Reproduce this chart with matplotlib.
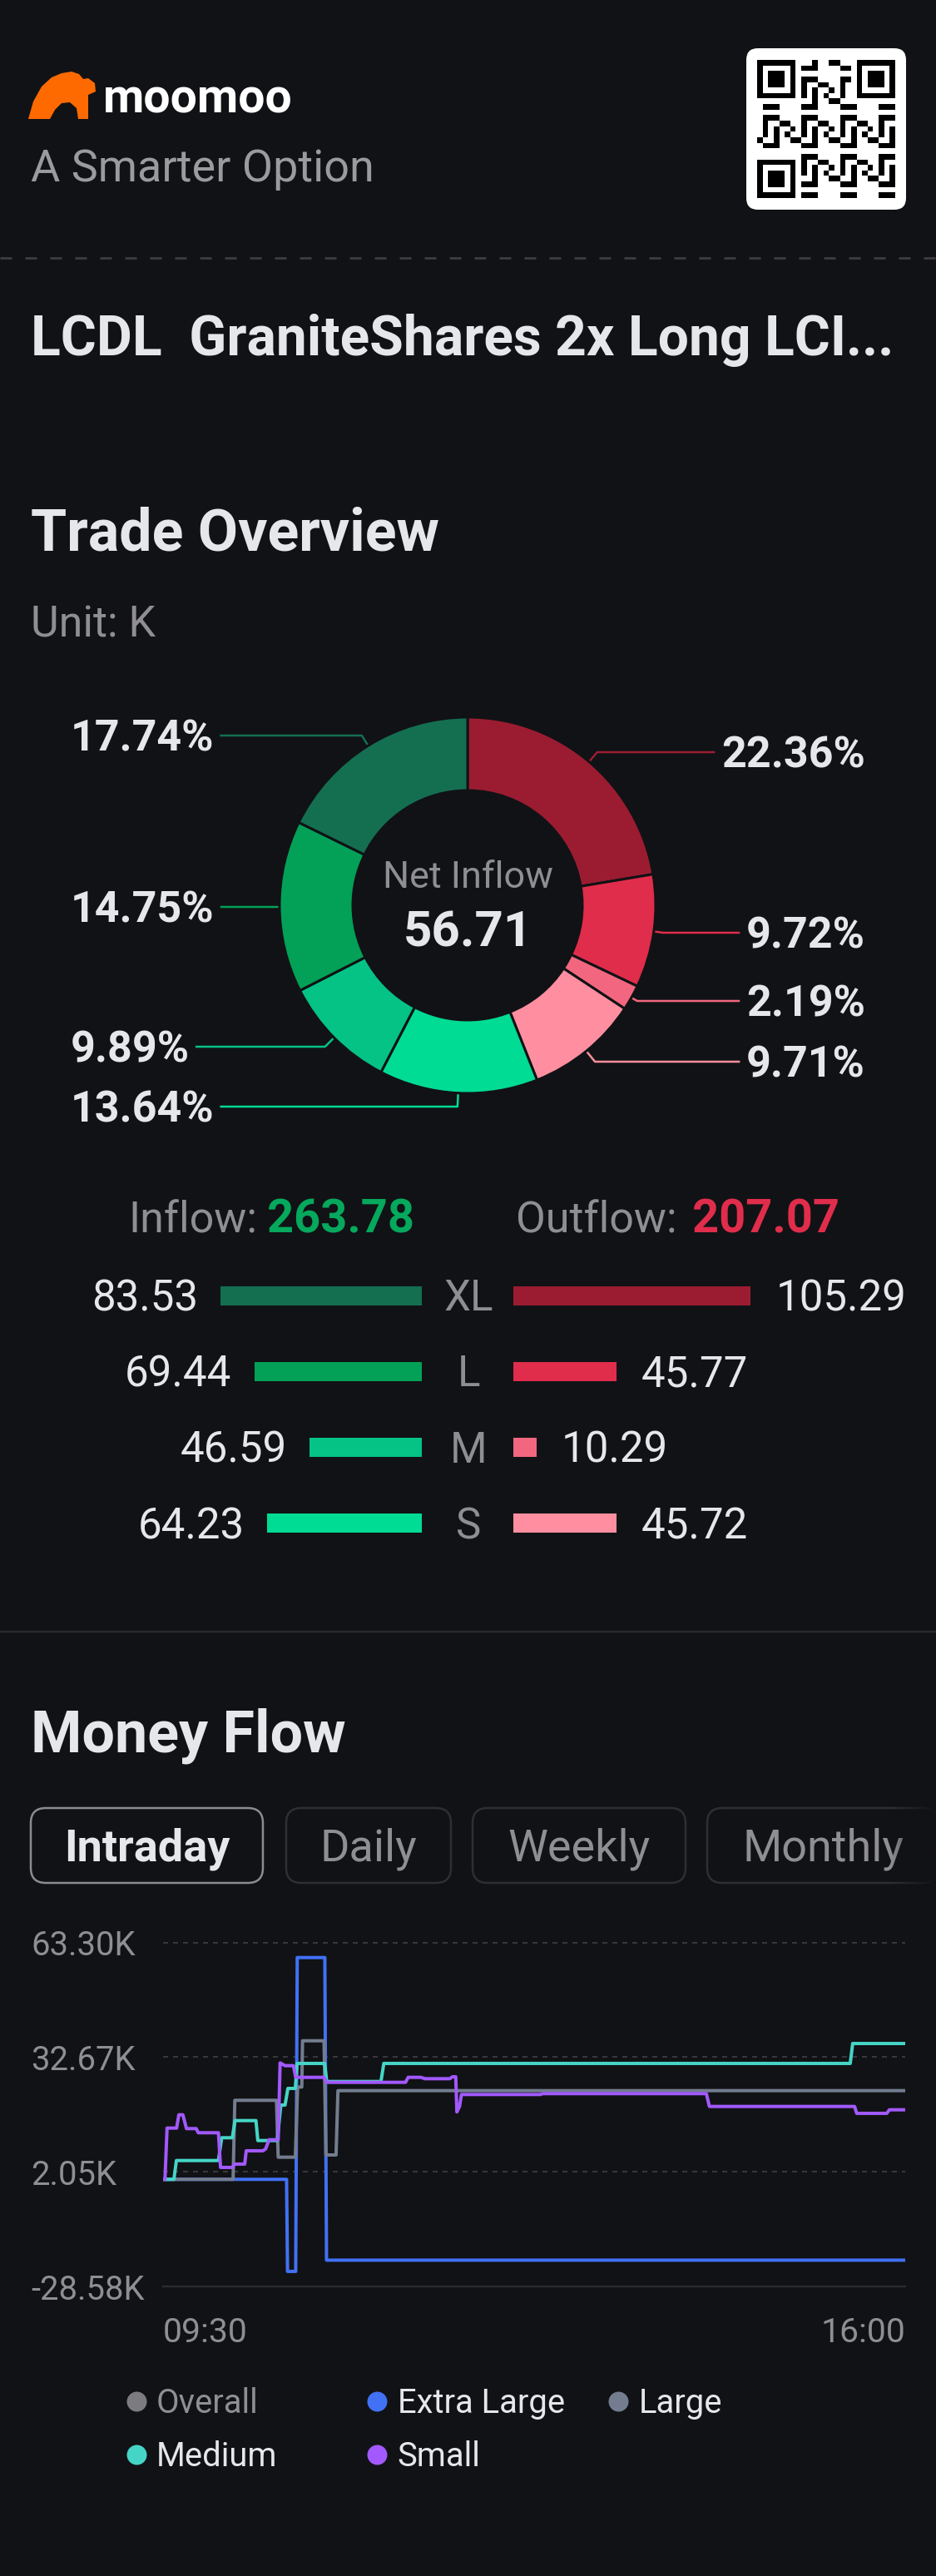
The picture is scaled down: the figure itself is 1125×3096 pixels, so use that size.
import matplotlib
matplotlib.use("Agg")
import matplotlib.pyplot as plt
from matplotlib.patches import FancyBboxPatch, Polygon
import numpy as np

plt.rcParams['font.family'] = ['Roboto', 'DejaVu Sans']
plt.rcParams['lines.scale_dashes'] = False

# ---------------- data ----------------
ticker = "LCDL"
stock_name = "GraniteShares 2x Long LCI..."
size_names = ["XL", "L", "M", "S"]
inflow = [83.53, 69.44, 46.59, 64.23]
outflow = [105.29, 45.77, 10.29, 45.72]
inflow_total = 263.78
outflow_total = 207.07
net_inflow = 56.71

tabs = ["Intraday", "Daily", "Weekly", "Monthly"]
y_ticks = [-28.58, 2.05, 32.67, 63.30]
x_tick_labels = ["09:30", "16:00"]
session_minutes = 390

series_names = ["Overall", "Extra Large", "Large", "Medium", "Small"]

# minutes after 09:30 / value in K
xl_t = [0, 64.9, 65.4, 69.7, 70.5, 85.0, 85.9, 390]
xl_v = [0.07, 0.07, -24.5, -24.5, 59.25, 59.25, -21.5, -21.5]

large_t = [0, 36.8, 37.7, 59.6, 60.5, 69.5, 70.7, 72.9, 73.3, 84.6, 85.6, 90.9, 91.9, 390]
large_v = [0.07, 0.07, 21.16, 21.16, 5.98, 5.98, 24.71, 24.71, 37.05, 37.05, 6.58, 6.58, 23.74, 23.74]

medium_t = [0, 5.7, 7.0, 29.1, 30.8, 36.4, 37.8, 48.8, 49.8, 60.0, 61.9, 64.1, 65.6, 69.5,
            70.4, 84.9, 86.0, 114.5, 116.0, 361.1, 362.4, 390]
medium_v = [0.07, 0.07, 5.09, 5.09, 11.17, 11.17, 15.75, 15.75, 10.42, 10.42, 19.9, 19.9, 24.33, 24.33,
            31.0, 31.0, 26.18, 26.18, 31.0, 31.0, 36.32, 36.32]

small_t = [0, 1.0, 2.1, 7.1, 8.3, 10.4, 12.3, 17.4, 18.5, 29.1, 30.2, 36.4, 37.6, 42.9, 43.7,
           52.5, 53.9, 55.7, 60.5, 61.5, 64.1, 68.5, 69.7, 84.6, 86.0, 127.4, 128.8, 135.5,
           137.6, 150.7, 152.1, 153.8, 154.4, 155.8, 156.8, 198.4, 199.4, 285.5, 287.1,
           363.4, 364.5, 380.3, 381.7, 390]
small_v = [0.07, 0.07, 13.75, 13.75, 17.3, 17.3, 13.61, 13.61, 12.5, 12.5, 3.25, 3.25, 4.14, 4.14, 7.69,
           7.69, 8.2, 10.64, 10.64, 31.15, 30.4, 30.4, 27.29, 27.29, 25.96, 25.96, 27.29, 27.29,
           26.93, 26.93, 27.44, 27.44, 18.05, 19.52, 22.71, 22.71, 22.94, 22.94, 19.52,
           19.52, 17.68, 17.68, 18.63, 18.63]

# ---------------- style ----------------
W, H = 1125, 3096
BG = "#111215"
TXT = "#e6e7ea"
SUB = "#8e8e93"
in_colors = ["#146f51", "#02a157", "#05c285", "#00dc93"]
out_colors = ["#9b1c31", "#e02d4b", "#f2677f", "#ff8fa0"]
series_colors = ["#7c7c80", "#4171f5", "#737d8f", "#45d5c6", "#a259ff"]


def fs(p):
    # pixels -> points at dpi 100
    return p * 0.72


fig = plt.figure(figsize=(W / 100, H / 100), dpi=100, facecolor=BG)
bg = fig.add_axes([0, 0, 1, 1])
bg.set_xlim(0, W)
bg.set_ylim(H, 0)
bg.axis('off')


def axes_px(x0, y0, x1, y1):
    return fig.add_axes([x0 / W, 1 - y1 / H, (x1 - x0) / W, (y1 - y0) / H])


def text(x, y, s, size, color=TXT, weight='normal', ha='left'):
    return bg.text(x, y, s, fontsize=fs(size), color=color, fontweight=weight,
                   ha=ha, va='baseline')


# ---------------- header ----------------
logo = [(34, 143), (40, 122), (50, 104), (62, 93), (74, 88), (86, 86), (95, 89), (100, 95),
        (106, 94), (114, 100), (115, 110), (106, 114), (106, 143), (94, 143), (92, 130),
        (84, 123), (74, 124), (66, 132), (60, 143)]
bg.add_patch(Polygon(logo, closed=True, fc="#ff6a00", ec='none'))
text(124, 135, "moomoo", 57, color="#ffffff", weight='bold')
text(37, 218, "A Smarter Option", 54, color="#9b9b9f")

bg.add_patch(FancyBboxPatch((897, 58), 192, 194, boxstyle="round,pad=0,rounding_size=14",
                            fc="white", ec='none', zorder=1))
n = 25
ii, jj = np.meshgrid(np.arange(n), np.arange(n), indexing='ij')
qr = (((ii * ii * 3 + jj * 5 + ii * jj) % 7) < 3).astype(float)
for r0, c0 in [(0, 0), (0, n - 7), (n - 7, 0)]:
    qr[max(r0 - 1, 0):r0 + 8, max(c0 - 1, 0):c0 + 8] = 0
    qr[r0:r0 + 7, c0:c0 + 7] = 1
    qr[r0 + 1:r0 + 6, c0 + 1:c0 + 6] = 0
    qr[r0 + 2:r0 + 5, c0 + 2:c0 + 5] = 1
bg.imshow(qr, cmap='gray_r', vmin=0, vmax=1, extent=(910, 1076, 238, 72),
          aspect='auto', interpolation='nearest', zorder=2)

bg.plot([0, W], [310, 310], color="#3a3a3e", lw=fs(3), dashes=(fs(14), fs(16)))

text(37, 427, f"{ticker}  {stock_name}", 66, weight='bold')

# ---------------- trade overview ----------------
text(37, 662, "Trade Overview", 70, weight='bold')
text(37, 766, "Unit: K", 52, color=SUB)

cx, cy, R = 562, 1088, 226
apie = axes_px(cx - 250, cy - 250, cx + 250, cy + 250)
pie_vals = outflow + inflow[::-1]
pie_cols = out_colors + in_colors[::-1]
wedges, _ = apie.pie(pie_vals, colors=pie_cols, startangle=90, counterclock=False, radius=1,
                     wedgeprops=dict(width=88 / R, edgecolor=BG, linewidth=fs(3)))
apie.set_xlim(-250 / R, 250 / R)
apie.set_ylim(-250 / R, 250 / R)
apie.set_aspect('equal')
apie.axis('off')

text(cx, 1067, "Net Inflow", 45, color=SUB, ha='center')
text(cx, 1137, f"{net_inflow:.2f}", 60, weight='bold', ha='center')

pct_size = 52
label_y = [904, 1121, 1203, 1276, 1330, 1258, 1090, 884]
pcts = [v / sum(pie_vals) * 100 for v in pie_vals]
pct_texts = []
for k, p in enumerate(pcts):
    right = k < 4
    t = text(1040 if right else 85, label_y[k] + 0.711 * pct_size / 2, f"{p:.2f}%", pct_size,
             weight='bold', ha='right' if right else 'left')
    pct_texts.append(t)

# inflow / outflow totals
text(154, 1481, "Inflow:", 52, color=SUB)
text(321, 1481, f"{inflow_total:.2f}", 56, color="#05a85c", weight='bold')
text(620, 1481, "Outflow:", 52, color=SUB)
text(832, 1481, f"{outflow_total:.2f}", 56, color="#e02d4b", weight='bold')

# bars: each side has its own px/K scale, as in the app
row0, pitch = 1557, 91.3
top, bot = row0 - pitch / 2, row0 + 3.5 * pitch
left_scale, right_scale = 2.9, 2.71
axL = axes_px(507 - left_scale * 100, top, 507, bot)
axL.barh(range(4), inflow, height=23 / pitch, color=in_colors)
axL.set_xlim(100, 0)
axL.set_ylim(3.5, -0.5)
axL.axis('off')
axR = axes_px(617, top, 617 + right_scale * 120, bot)
axR.barh(range(4), outflow, height=23 / pitch, color=out_colors)
axR.set_xlim(0, 120)
axR.set_ylim(3.5, -0.5)
axR.axis('off')
val_size = 51
for i in range(4):
    axL.annotate(f"{inflow[i]:.2f}", xy=(inflow[i], i), xytext=(-27, -0.711 * val_size / 2),
                 textcoords='offset pixels', ha='right', va='baseline', color=TXT,
                 fontsize=fs(val_size))
    axR.annotate(f"{outflow[i]:.2f}", xy=(outflow[i], i), xytext=(30, -0.711 * val_size / 2),
                 textcoords='offset pixels', ha='left', va='baseline', color=TXT,
                 fontsize=fs(val_size))
    text(563, row0 + i * pitch + 0.711 * val_size / 2, size_names[i], val_size, color=SUB,
         ha='center')

bg.plot([0, W], [1961, 1961], color="#2a2a2d", lw=fs(2.5))

# ---------------- money flow ----------------
text(37, 2105, "Money Flow", 70, weight='bold')

tab_x = [(37, 316), (344, 542), (568, 824), (850, 1128)]
for k, (x0, x1) in enumerate(tab_x):
    active = k == 0
    bg.add_patch(FancyBboxPatch((x0, 2173), x1 - x0, 90, boxstyle="round,pad=0,rounding_size=18",
                                fc=BG, ec="#8c8c90" if active else "#2f2f33", lw=fs(2.5)))
    text((x0 + x1) / 2, 2237, tabs[k], 54, color=TXT if active else SUB,
         weight='bold' if active else 'normal', ha='center')
fade = np.zeros((1, 60, 4))
fade[..., :3] = matplotlib.colors.to_rgb(BG)
fade[..., 3] = np.linspace(0, 1, 60)
bg.imshow(fade, extent=(1070, 1126, 2268, 2168), aspect='auto', zorder=5)

axc = axes_px(196, 2334.5, 1088, 2748.3)
axc.set_facecolor('none')
for v in y_ticks[1:]:
    axc.axhline(v, color="#38383c", lw=fs(2), dashes=(fs(6), fs(6)), zorder=0, clip_on=False)
axc.axhline(y_ticks[0], color="#2a2a2e", lw=fs(2.5), zorder=0, clip_on=False)
lw = fs(4)
axc.plot(xl_t, xl_v, color=series_colors[1], lw=lw)
axc.plot(large_t, large_v, color=series_colors[2], lw=lw)
axc.plot(medium_t, medium_v, color=series_colors[3], lw=lw)
axc.plot(small_t, small_v, color=series_colors[4], lw=lw)
axc.set_xlim(0, session_minutes)
axc.set_ylim(y_ticks[0], y_ticks[-1])
for s in axc.spines.values():
    s.set_visible(False)
axc.set_yticks(y_ticks)
axc.set_yticklabels([f"{v:.2f}K" for v in y_ticks])
axc.tick_params(axis='y', length=0, pad=fs(196 - 37), labelsize=fs(40), labelcolor=SUB)
for lab in axc.get_yticklabels():
    lab.set_ha('left')
axc.set_xticks([0, session_minutes])
axc.set_xticklabels(x_tick_labels)
axc.tick_params(axis='x', length=0, pad=fs(36), labelsize=fs(41), labelcolor=SUB)
xl_labels = axc.get_xticklabels()
xl_labels[0].set_ha('left')
xl_labels[1].set_ha('right')

# legend
leg_x = [163.5, 453, 743]
leg_y = [2886, 2950]
for k, name in enumerate(series_names):
    lx, ly = leg_x[k % 3], leg_y[k // 3]
    bg.scatter([lx], [ly], s=fs(24) ** 2, color=series_colors[k], lw=0)
    text(lx + 24.5, ly + 14, name, 40, color=SUB if k == 0 else TXT)

# leader lines for pie labels
fig.canvas.draw()
inv = bg.transData.inverted()
for k, w in enumerate(wedges):
    right = k < 4
    mid = np.deg2rad((w.theta1 + w.theta2) / 2)
    rx, ry = inv.transform(apie.transData.transform((np.cos(mid), np.sin(mid))))
    dx, dy = np.cos(mid), -np.sin(mid)
    ly = label_y[k]
    t = (ly - ry) / dy if abs(dy) > 0.05 else 0
    t = max(t, 0)
    ex, ey = rx + t * dx, ry + t * dy
    bb = pct_texts[k].get_window_extent()
    (bx0, _), (bx1, _) = inv.transform([(bb.x0, bb.y0), (bb.x1, bb.y1)])
    end_x = bx0 - 9 if right else bx1 + 8
    bg.plot([rx, ex, end_x], [ry, ly, ly], color=pie_cols[k], lw=fs(2.5))

bg.set_xlim(0, W)
bg.set_ylim(H, 0)
fig.savefig("out.png", dpi=100, facecolor=BG)
